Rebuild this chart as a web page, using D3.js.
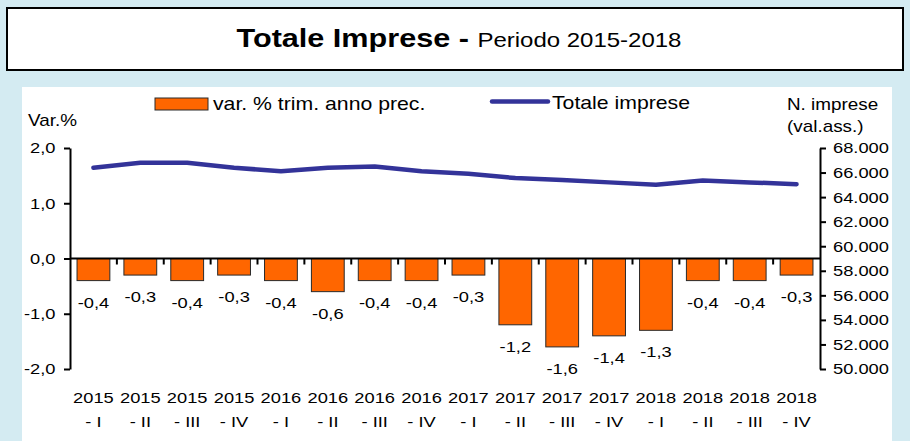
<!DOCTYPE html>
<html>
<head>
<meta charset="utf-8">
<script src="https://cdn.jsdelivr.net/npm/d3@7"></script>
<style>
  body { margin: 0; background: #d4ebf2; }
  svg { display: block; font-family: "Liberation Sans", Arial, sans-serif; }
</style>
</head>
<body>
<div id="chart"></div>
<script>
"use strict";

// data
var categories = ["2015 - I", "2015 - II", "2015 - III", "2015 - IV",
  "2016 - I", "2016 - II", "2016 - III", "2016 - IV",
  "2017 - I", "2017 - II", "2017 - III", "2017 - IV",
  "2018 - I", "2018 - II", "2018 - III", "2018 - IV"];
var varPct = [-0.4, -0.3, -0.4, -0.3, -0.4, -0.6, -0.4, -0.4,
  -0.3, -1.2, -1.6, -1.4, -1.3, -0.4, -0.4, -0.3];
var totaleImprese = [66400, 66800, 66800, 66400, 66100, 66400, 66500, 66100,
  65900, 65550, 65400, 65200, 65000, 65350, 65200, 65050];
var leftTicks = [2, 1, 0, -1, -2];
var rightTicks = [68000, 66000, 64000, 62000, 60000, 58000, 56000, 54000, 52000, 50000];

var width = 910, height = 441;
var SX = 1.18; // the original text is stretched a bit horizontally
var FONT = "'Liberation Sans', Arial, sans-serif";

var it = d3.formatLocale({ decimal: ",", thousands: ".", grouping: [3], currency: ["€", ""], minus: "-" });
var fmtPct = it.format(".1f");
var fmtNum = it.format(",.0f");

var svg = d3.select("#chart").append("svg")
  .attr("width", width)
  .attr("height", height);

// background + title box
svg.append("rect").attr("width", width).attr("height", height).attr("fill", "#d4ebf2");
svg.append("rect")
  .attr("x", 7).attr("y", 8).attr("width", 896).attr("height", 62)
  .attr("fill", "white").attr("stroke", "black").attr("stroke-width", 2);

var title = svg.append("text")
  .attr("transform", "translate(459,47) scale(1.2,1)")
  .attr("font-family", FONT)
  .attr("text-anchor", "middle");
title.append("tspan").attr("font-weight", "bold").attr("font-size", 25.5).text("Totale Imprese - ");
title.append("tspan").attr("font-size", 20).text("Periodo 2015-2018");

// white chart panel
svg.append("rect")
  .attr("x", 22).attr("y", 87).attr("width", 870).attr("height", 360)
  .attr("fill", "white");

function label(x, y, txt, size, anchor) {
  return svg.append("text")
    .attr("transform", "translate(" + x + "," + y + ") scale(" + SX + ",1)")
    .attr("font-family", FONT)
    .attr("font-size", size)
    .attr("text-anchor", anchor || "start")
    .attr("fill", "black")
    .text(txt);
}

// scales
var x = d3.scaleBand()
  .domain(categories)
  .range([70, 820])
  .paddingInner(0.3)
  .paddingOuter(0.15);

var yL = d3.scaleLinear().domain([-2, 2]).range([369, 148]);
var yR = d3.scaleLinear().domain([50000, 68000]).range([369, 148]);

// bars
svg.selectAll("rect.bar")
  .data(varPct)
  .enter()
  .append("rect")
  .attr("class", "bar")
  .attr("x", function(d, i) { return x(categories[i]); })
  .attr("width", x.bandwidth())
  .attr("y", function(d) { return yL(Math.max(0, d)); })
  .attr("height", function(d) { return Math.abs(yL(d) - yL(0)); })
  .attr("fill", "#ff6600")
  .attr("stroke", "#2a2a2a")
  .attr("stroke-width", 1);

// bar value labels
varPct.forEach(function(d, i) {
  label(x(categories[i]) + x.bandwidth() / 2, yL(d) + 27, fmtPct(d), 15.5, "middle");
});

// x axis line at zero + small ticks between categories
svg.append("line")
  .attr("x1", 70).attr("x2", 820)
  .attr("y1", yL(0)).attr("y2", yL(0))
  .attr("stroke", "black").attr("stroke-width", 2);

svg.selectAll("line.xtick")
  .data(categories.slice(1))
  .enter()
  .append("line")
  .attr("class", "xtick")
  .attr("x1", function(c) { return x(c) - x.step() * x.paddingInner() / 2; })
  .attr("x2", function(c) { return x(c) - x.step() * x.paddingInner() / 2; })
  .attr("y1", yL(0)).attr("y2", yL(0) + 6)
  .attr("stroke", "black").attr("stroke-width", 2);

// category labels on two lines
categories.forEach(function(c) {
  var parts = c.split(" - ");
  var cx = x(c) + x.bandwidth() / 2;
  label(cx, 403, parts[0], 15.5, "middle");
  label(cx, 427, "- " + parts[1], 15.5, "middle");
});

// left axis
var gL = svg.append("g")
  .attr("transform", "translate(70,0)")
  .call(d3.axisLeft(yL).tickValues(leftTicks).tickSize(6).tickSizeOuter(0).tickFormat(fmtPct));

// right axis
var gR = svg.append("g")
  .attr("transform", "translate(820,0)")
  .call(d3.axisRight(yR).tickValues(rightTicks).tickSize(6).tickSizeOuter(0).tickFormat(fmtNum));

[gL, gR].forEach(function(g) {
  g.attr("font-family", FONT).attr("font-size", 15.5);
  g.select(".domain").attr("stroke", "black").attr("stroke-width", 2);
  g.selectAll(".tick line").attr("stroke", "black").attr("stroke-width", 2);
  g.selectAll(".tick text")
    .attr("fill", "black")
    .attr("transform", "scale(" + SX + ",1)");
});
gL.selectAll(".tick text").attr("x", -14.5 / SX);
gR.selectAll(".tick text").attr("x", 13 / SX);

// line series
var line = d3.line()
  .x(function(d, i) { return x(categories[i]) + x.bandwidth() / 2; })
  .y(function(d) { return yR(d); });

svg.append("path")
  .datum(totaleImprese)
  .attr("d", line)
  .attr("fill", "none")
  .attr("stroke", "#333399")
  .attr("stroke-width", 4.5)
  .attr("stroke-linecap", "round")
  .attr("stroke-linejoin", "round");

// axis titles
label(28, 126, "Var.%", 16);
label(787, 110, "N. imprese", 16);
label(787, 131.5, "(val.ass.)", 16);

// legend
svg.append("rect")
  .attr("x", 155).attr("y", 98).attr("width", 53).attr("height", 12)
  .attr("fill", "#ff6600").attr("stroke", "#2a2a2a").attr("stroke-width", 1);
label(213, 110, "var. % trim. anno prec.", 18);

svg.append("line")
  .attr("x1", 492).attr("x2", 548)
  .attr("y1", 101.5).attr("y2", 101.5)
  .attr("stroke", "#333399").attr("stroke-width", 4.5)
  .attr("stroke-linecap", "round");
label(552, 109, "Totale imprese", 18);
</script>
</body>
</html>
